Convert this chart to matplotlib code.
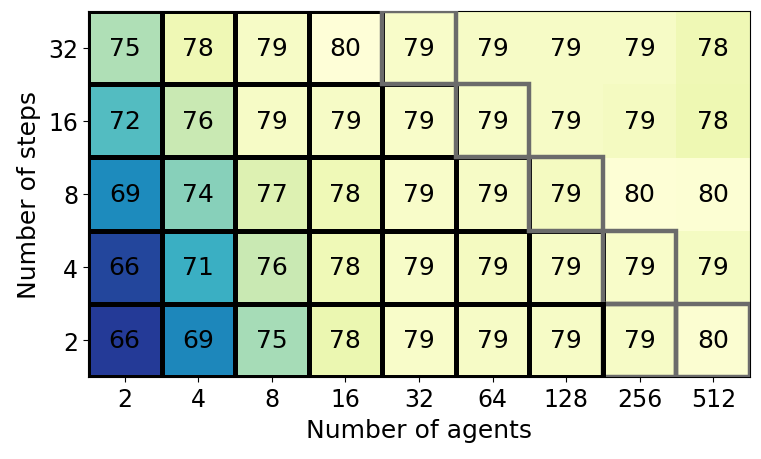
import numpy as np
import matplotlib
matplotlib.use("Agg")
import matplotlib.pyplot as plt
from matplotlib.patches import Rectangle

# accuracy grid, rows = number of steps (bottom to top), cols = number of agents
agents = ["2", "4", "8", "16", "32", "64", "128", "256", "512"]
steps = ["2", "4", "8", "16", "32"]

acc_steps2 = [65.8, 69.3, 75.0, 78.0, 79.4, 79.2, 79.2, 79.2, 79.8]
acc_steps4 = [66.4, 71.4, 76.1, 78.4, 79.3, 78.9, 79.2, 79.4, 79.0]
acc_steps8 = [69.4, 74.1, 77.2, 78.4, 79.4, 79.2, 78.9, 80.0, 79.9]
acc_steps16 = [72.4, 76.1, 79.2, 79.2, 79.4, 79.3, 79.2, 78.9, 78.2]
acc_steps32 = [75.3, 78.3, 79.2, 80.1, 79.4, 79.2, 79.2, 79.2, 78.3]

# 1 = black frame, 2 = gray frame, 0 = none
frame_steps2 = [1, 1, 1, 1, 1, 1, 1, 2, 2]
frame_steps4 = [1, 1, 1, 1, 1, 1, 1, 2, 0]
frame_steps8 = [1, 1, 1, 1, 1, 1, 2, 0, 0]
frame_steps16 = [1, 1, 1, 1, 1, 2, 0, 0, 0]
frame_steps32 = [1, 1, 1, 1, 2, 0, 0, 0, 0]

acc = np.array([acc_steps2, acc_steps4, acc_steps8, acc_steps16, acc_steps32])
frames = np.array([frame_steps2, frame_steps4, frame_steps8, frame_steps16, frame_steps32])

fig = plt.figure(figsize=(7.61, 4.60), dpi=100)
ax = fig.add_axes([0.1156, 0.1783, 0.8699, 0.7956])

ax.imshow(acc, cmap="YlGnBu_r", vmin=63.3, vmax=80.2, origin="lower",
          aspect="auto", interpolation="nearest")

for i in range(acc.shape[0]):
    for j in range(acc.shape[1]):
        ax.text(j, i, f"{acc[i, j]:.0f}", ha="center", va="center",
                fontsize=18, color="black", zorder=5)
        if frames[i, j] == 1:
            # bottom row frames sit on top of the gray ones
            z = 4 if i == 0 else 2
            ax.add_patch(Rectangle((j - 0.5, i - 0.5), 1, 1, fill=False,
                                   ec="black", lw=3.6, zorder=z))
        elif frames[i, j] == 2:
            ax.add_patch(Rectangle((j - 0.5, i - 0.5), 1, 1, fill=False,
                                   ec="#6b6b6b", lw=3.2, zorder=3))

ax.set_xticks(range(len(agents)))
ax.set_xticklabels(agents, fontsize=17)
ax.set_yticks(range(len(steps)))
ax.set_yticklabels(steps, fontsize=17)
ax.set_xlim(-0.5, len(agents) - 0.5)
ax.set_ylim(-0.5, len(steps) - 0.5)
ax.set_xlabel("Number of agents", fontsize=18, labelpad=5)
ax.set_ylabel("Number of steps", fontsize=18, labelpad=5)

fig.savefig("out.png", dpi=100)
